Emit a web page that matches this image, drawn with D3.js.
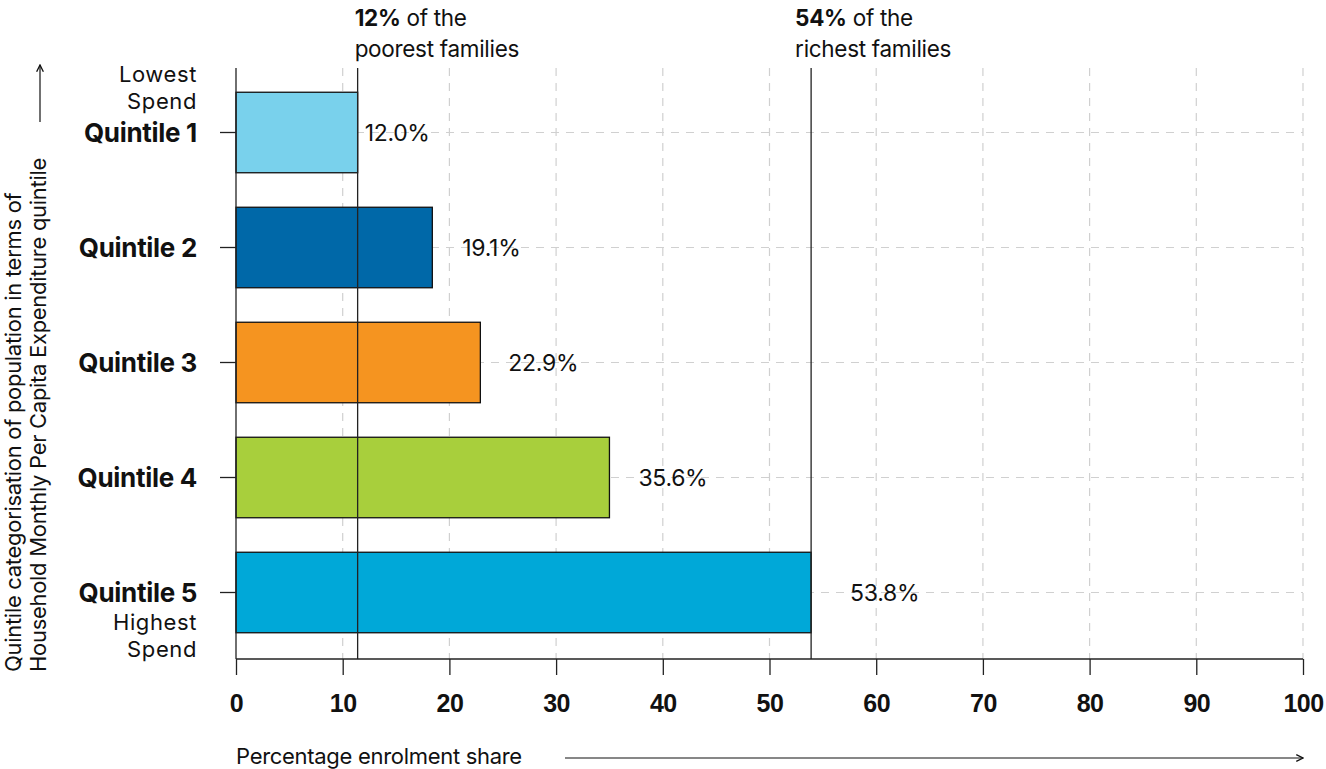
<!DOCTYPE html>
<html>
<head>
<meta charset="UTF-8"/>
<title>Enrolment share by quintile</title>
<script src="https://cdn.jsdelivr.net/npm/d3@7"></script>
<style>
body { margin: 0; background: #fff; font-family: 'Inter', 'Liberation Sans', sans-serif; }
svg { display: block; }
text { fill: #111; }
.grid line { stroke: #d0d0d0; stroke-width: 1.2; stroke-dasharray: 8 7; }
.axis path, .axis line { stroke: #222; stroke-width: 1.3; }
.axis text { font-size: 25px; font-weight: 700; fill: #111; letter-spacing: -0.5px; }
.bar { stroke: #111; stroke-width: 1.3; }
.value { font-size: 23px; letter-spacing: -0.3px; }
.qlabel { font-size: 26px; font-weight: 700; letter-spacing: -0.3px; }
.sub { font-size: 22px; letter-spacing: 0.6px; }
.note { font-size: 22.5px; letter-spacing: -0.3px; }
.title { font-size: 22px; letter-spacing: -0.3px; }
</style>
</head>
<body>
<svg width="1326" height="769"></svg>
<script>
const categories = ['Quintile 1', 'Quintile 2', 'Quintile 3', 'Quintile 4', 'Quintile 5'];
const values = [11.4, 18.4, 22.9, 35.0, 53.9];
const valueLabels = ['12.0%', '19.1%', '22.9%', '35.6%', '53.8%'];
const colors = ['#79d1ec', '#0068a8', '#f59420', '#a8cf3c', '#00a8d8'];
const xTicks = [0, 10, 20, 30, 40, 50, 60, 70, 80, 90, 100];

const svg = d3.select('svg');

const plotLeft = 236, plotRight = 1303, plotTop = 68, plotBottom = 659;

const x = d3.scaleLinear().domain([0, 100]).range([plotLeft, plotRight]);
const y = d3.scaleBand().domain(categories).range([75, 650])
  .paddingInner(0.3).paddingOuter(0.15);

// arrow marker
const defs = svg.append('defs');
defs.append('marker')
  .attr('id', 'arr').attr('viewBox', '0 0 10 10')
  .attr('refX', 9).attr('refY', 5)
  .attr('markerWidth', 7).attr('markerHeight', 7)
  .attr('orient', 'auto-start-reverse')
  .append('path').attr('d', 'M1,1 L9,5 L1,9').attr('fill', 'none')
  .attr('stroke', '#111').attr('stroke-width', 1.6);

// grid
const grid = svg.append('g').attr('class', 'grid');
grid.selectAll('.v').data(xTicks.slice(1)).enter().append('line')
  .attr('x1', d => x(d)).attr('x2', d => x(d))
  .attr('y1', plotTop).attr('y2', plotBottom);
grid.selectAll('.h').data(categories).enter().append('line')
  .attr('x1', plotLeft).attr('x2', plotRight)
  .attr('y1', d => y(d) + y.bandwidth() / 2).attr('y2', d => y(d) + y.bandwidth() / 2);

// bars
svg.selectAll('.bar').data(categories).enter().append('rect')
  .attr('class', 'bar')
  .attr('x', x(0))
  .attr('y', d => y(d))
  .attr('width', (d, i) => x(values[i]) - x(0))
  .attr('height', y.bandwidth())
  .attr('fill', (d, i) => colors[i]);

// value labels
const labelGap = [7, 30, 28, 29, 39];
svg.selectAll('.value').data(categories).enter().append('text')
  .attr('class', 'value')
  .attr('x', (d, i) => x(values[i]) + labelGap[i])
  .attr('y', d => y(d) + y.bandwidth() / 2)
  .attr('dy', '0.36em')
  .text((d, i) => valueLabels[i]);

// reference lines at poorest / richest
const refs = [
  { v: values[0], bold: '12%', rest: ' of the', line2: 'poorest families', dx: -3 },
  { v: values[4], bold: '54%', rest: ' of the', line2: 'richest families', dx: -16 }
];
refs.forEach(r => {
  svg.append('line')
    .attr('x1', x(r.v)).attr('x2', x(r.v))
    .attr('y1', plotTop).attr('y2', plotBottom)
    .attr('stroke', '#222').attr('stroke-width', 1.3);
  const t = svg.append('text').attr('class', 'note')
    .attr('x', x(r.v) + r.dx).attr('y', 26);
  t.append('tspan').attr('font-weight', 700).text(r.bold);
  t.append('tspan').text(r.rest);
  t.append('tspan').attr('x', x(r.v) + r.dx).attr('dy', 31).text(r.line2);
});

// axes
svg.append('g').attr('class', 'axis')
  .attr('transform', `translate(0,${plotBottom})`)
  .call(d3.axisBottom(x).tickValues(xTicks).tickSize(16).tickSizeOuter(0).tickPadding(19))
  .call(g => g.select('.domain').attr('d', `M${plotLeft},0H${plotRight}`));

svg.append('g').attr('class', 'axis')
  .attr('transform', `translate(${plotLeft},0)`)
  .call(d3.axisLeft(y).tickSize(16).tickSizeOuter(0).tickFormat(''))
  .call(g => g.select('.domain').attr('d', `M0,${plotTop}V${plotBottom}`));

// category labels
svg.selectAll('.qlabel').data(categories).enter().append('text')
  .attr('class', 'qlabel')
  .attr('x', 197).attr('text-anchor', 'end')
  .attr('y', d => y(d) + y.bandwidth() / 2).attr('dy', '0.36em')
  .text(d => d);

const yq1 = y(categories[0]) + y.bandwidth() / 2;
const yq5 = y(categories[4]) + y.bandwidth() / 2;
[[['Lowest', 'Spend'], yq1 - 58.5], [['Highest', 'Spend'], yq5 + 29.5]]
  .forEach(([lines, yy]) => {
    const t = svg.append('text').attr('class', 'sub')
      .attr('x', 197).attr('text-anchor', 'end')
      .attr('y', yy + 8);
    lines.forEach((s, i) => {
      t.append('tspan').attr('x', 197).attr('dy', i ? 27 : 0).text(s);
    });
  });

// axis titles
svg.append('text').attr('class', 'title')
  .attr('transform', 'translate(21,672) rotate(-90)')
  .text('Quintile categorisation of population in terms of')
  .append('tspan').attr('x', 0).attr('dy', 25)
  .text('Household Monthly Per Capita Expenditure quintile');
svg.append('line')
  .attr('x1', 40).attr('x2', 40).attr('y1', 122).attr('y2', 65)
  .attr('stroke', '#111').attr('stroke-width', 1.2)
  .attr('marker-end', 'url(#arr)');

svg.append('text').attr('class', 'title')
  .attr('x', 236).attr('y', 764).text('Percentage enrolment share');
svg.append('line')
  .attr('x1', 565).attr('x2', 1303).attr('y1', 758).attr('y2', 758)
  .attr('stroke', '#111').attr('stroke-width', 1.2)
  .attr('marker-end', 'url(#arr)');
</script>
</body>
</html>
